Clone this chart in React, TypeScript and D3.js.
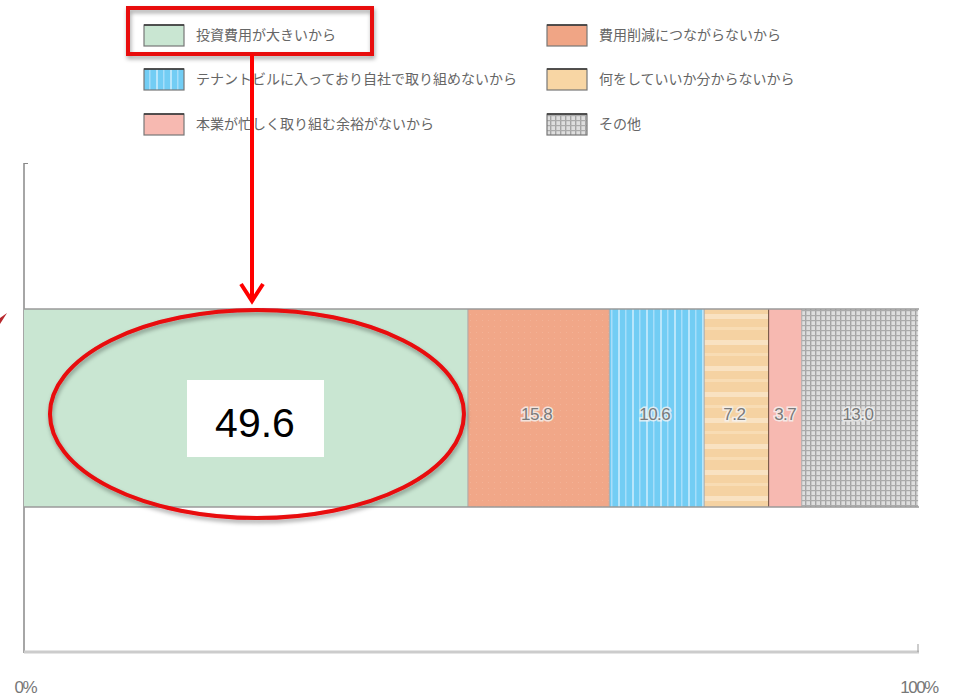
import React from "react";
import * as d3 from "d3";

const categories = [
  "投資費用が大きいから",
  "費用削減につながらないから",
  "テナントビルに入っており自社で取り組めないから",
  "何をしていいか分からないから",
  "本業が忙しく取り組む余裕がないから",
  "その他",
];
const values = [49.6, 15.8, 10.6, 7.2, 3.7, 13.0];
const fills = ["#c9e6d2", "url(#pOrange)", "url(#pBlue)", "url(#pTan)", "#f7b9b1", "url(#pGray)"];
const swatchFills = ["#c9e6d2", "#f0a585", "url(#pBlue)", "#f8d6a4", "#f7b9b1", "url(#pGray)"];
const axisTicks = ["0%", "100%"];
const highlightLabel = "49.6";

// legend order: left column then right column
const legendLeft = [0, 2, 4];
const legendRight = [1, 3, 5];

export default function App() {
  const W = 953, H = 700;
  const x = d3.scaleLinear().domain([0, 100]).range([24, 919]);
  const barY = 309, barH = 198;
  let acc = 0;
  const segs = values.map((v, i) => {
    const s = { i, v, x0: x(acc), x1: x(acc + v) };
    acc += v;
    return s;
  });
  const legendRowY = [35, 79, 124];
  const gray = "#666";
  const ff = "'Noto Sans CJK JP', 'Noto Sans', sans-serif";
  const first = segs[0];
  const cx = (first.x0 + first.x1) / 2 + 11;
  const cy = barY + barH / 2 + 6;

  return (
    <svg width={W} height={H} style={{ position: "absolute", left: 0, top: 0, background: "#fff" }}>
      <defs>
        <pattern id="pBlue" width="14" height="10" patternUnits="userSpaceOnUse">
          <rect width="14" height="10" fill="#72cdf4" />
          <rect x="2" width="2" height="10" fill="#b9e6fb" />
          <rect x="9" width="1.5" height="10" fill="#a5defa" />
        </pattern>
        <pattern id="pTan" width="10" height="26" patternUnits="userSpaceOnUse">
          <rect width="10" height="26" fill="#f5d2a2" />
          <rect y="2" width="10" height="5" fill="#f9e2c2" />
          <rect y="15" width="10" height="3" fill="#f8dcb4" />
        </pattern>
        <pattern id="pOrange" width="6" height="6" patternUnits="userSpaceOnUse">
          <rect width="6" height="6" fill="#f1a788" />
          <rect x="2" y="2" width="1" height="1" fill="#f3b296" />
        </pattern>
        <pattern id="pGray" width="5" height="5" patternUnits="userSpaceOnUse">
          <rect width="5" height="5" fill="#dedede" />
          <rect width="1.4" height="5" fill="#a4a4a4" />
          <rect width="5" height="1.2" fill="#ababab" />
        </pattern>
        <filter id="shadow" x="-10%" y="-10%" width="120%" height="130%">
          <feDropShadow dx="1" dy="3" stdDeviation="2" floodColor="#000" floodOpacity="0.35" />
        </filter>
      </defs>

      {/* legend */}
      {[legendLeft, legendRight].map((col, ci) =>
        col.map((idx, ri) => {
          const sx = ci === 0 ? 144 : 547;
          const yy = legendRowY[ri];
          return (
            <g key={`${ci}-${ri}`}>
              <rect x={sx} y={yy - 10} width={40} height={21} fill={swatchFills[idx]} stroke="#777" strokeWidth={1.2} />
              <line x1={sx} x2={sx + 40} y1={yy - 10} y2={yy - 10} stroke="#333" strokeWidth={1.5} />
              <text x={sx + 52} y={yy + 5} fontSize={14} fill={gray} fontFamily={ff}>
                {categories[idx]}
              </text>
            </g>
          );
        })
      )}

      {/* axes */}
      <line x1={24} x2={24} y1={163} y2={653} stroke="#888" strokeWidth={1.5} />
      <line x1={24} x2={28} y1={163.5} y2={163.5} stroke="#888" strokeWidth={1} />
      <line x1={24} x2={x(100)} y1={652} y2={652} stroke="#ccc" strokeWidth={3} />
      <line x1={x(100) - 1} x2={x(100) - 1} y1={644} y2={652} stroke="#999" strokeWidth={1} />
      {axisTicks.map((t, i) => (
        <text key={t} x={x(i * 100)} y={693} fontSize={17} fill="#777" textAnchor={i === 0 ? "end" : "middle"}
          dx={i === 0 ? 12 : 0} fontFamily="'Liberation Sans', Arial, sans-serif" letterSpacing={-1.5}>
          {t}
        </text>
      ))}

      {/* bar */}
      {segs.map((s) => (
        <g key={s.i}>
          <rect x={s.x0} y={barY} width={s.x1 - s.x0} height={barH} fill={fills[s.i]} />
          {s.i > 0 && (
            <line x1={s.x0} x2={s.x0} y1={barY} y2={barY + barH} stroke={s.i === 4 ? "#6b4a3a" : "#aaa"} strokeWidth={1} />
          )}
        </g>
      ))}
      <line x1={24} x2={x(100)} y1={barY} y2={barY} stroke="#9a9a9a" strokeWidth={1.5} />
      <line x1={24} x2={x(100)} y1={barY + barH} y2={barY + barH} stroke="#9a9a9a" strokeWidth={1.5} />
      {segs.slice(1).map((s) => (
        <text key={`l${s.i}`} x={(s.x0 + s.x1) / 2 + (s.i === 4 ? 0 : -2)} y={barY + barH / 2 + 12} fontSize={17} fill="#7a7a7a"
          textAnchor="middle" fontFamily="'Liberation Sans', Arial, sans-serif" letterSpacing={-0.5}
          stroke="#f4f4f4" strokeWidth={3} paintOrder="stroke" strokeOpacity={0.8}>
          {s.v.toFixed(1)}
        </text>
      ))}

      {/* highlight annotation */}
      <ellipse cx={cx} cy={cy} rx={207} ry={104} fill="none" stroke="#e8080e" strokeWidth={4} filter="url(#shadow)" />
      <rect x={187} y={380} width={137} height={77} fill="#fff" />
      <text x={255} y={437} fontSize={41} textAnchor="middle" fill="#000" fontFamily="'Liberation Sans', Arial, sans-serif">
        {highlightLabel}
      </text>
      <rect x={128} y={8} width={244} height={46} fill="none" stroke="#e8080e" strokeWidth={4} filter="url(#shadow)" />
      <line x1={252} x2={252} y1={54} y2={301} stroke="#f00" strokeWidth={4} />
      <path d="M241,284 L252,301 L263,284" fill="none" stroke="#f00" strokeWidth={4} />
      <path d="M0,318 L7,313 L0,324 Z" fill="#b8282d" />
    </svg>
  );
}
